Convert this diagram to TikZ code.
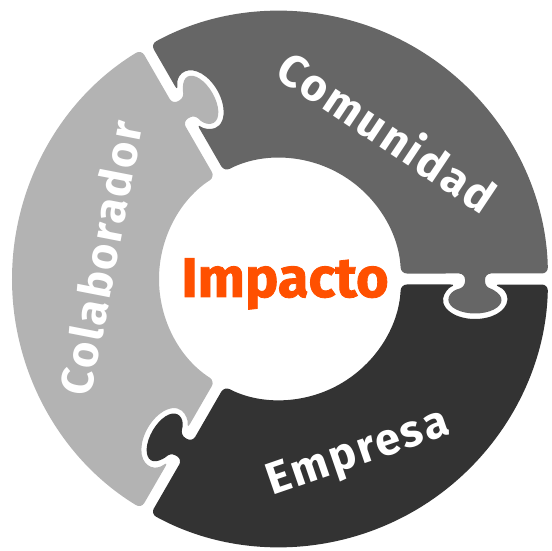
\documentclass[tikz,border=0pt]{standalone}
\usepackage{fontspec}
\setmainfont{Fira Sans}
\newfontfamily\impfont{Fira Sans Bold}[FakeBold=1.5]
\newfontfamily\ringfont{Fira Sans Bold}[LetterSpace=5]
\definecolor{comgray}{HTML}{666666}
\definecolor{colgray}{HTML}{B3B3B3}
\definecolor{empgray}{HTML}{333333}
\definecolor{impactorange}{HTML}{FF5000}
\tikzset{
  piece/.style={fill=#1, rounded corners=6pt},
  ringlabel/.style={text=white, anchor=base, inner sep=0pt,
    font=\ringfont\fontsize{45}{45}\selectfont},
}
% tab of a piece and the hole that takes it, in the frame of the joint
\newcommand{\knobcurve}{(185,5.5) -- (185,-8.5) arc[start angle=112.2, end angle=427.8, x radius=26.5, y radius=13.5] -- (205,5.5)}
\newcommand{\blankcurve}{(213.5,-5.5) arc[start angle=54.7, end angle=-234.7, x radius=32, y radius=19]}

\begin{document}
\begin{tikzpicture}[x=1pt, y=1pt]
        \useasboundingbox (-280,-272) rectangle (272,279);
        % the three pieces of the ring
        \foreach \ang/\col in {0/comgray, 120/colgray, 240/empgray} {
            \fill[piece=\col] (\ang+60:268)
                arc[start angle=\ang+60, end angle=\ang+118.82, radius=268]
                {[rotate=\ang+120] -- \blankcurve -- (120.87,-5.5)}
                arc[start angle=\ang+117.4, end angle=\ang+2.6, radius=121]
                {[rotate=\ang] -- \knobcurve -- (267.94,5.5)}
                arc[start angle=\ang+1.18, end angle=\ang+60, radius=268];
        }
        \node[ringlabel, rotate=-33.7] (comunidad) at (98,133) {Comunidad};
        \node[ringlabel, rotate=79] (colaborador) at (-163,18) {Colaborador};
        \node[ringlabel, rotate=19] (empresa) at (82,-185.5) {Empresa};
        \node[anchor=base, inner sep=0pt, text=impactorange,
            font=\impfont\fontsize{56}{56}\selectfont] (impacto) at (5,-18) {Impacto};
    \end{tikzpicture}
\end{document}
